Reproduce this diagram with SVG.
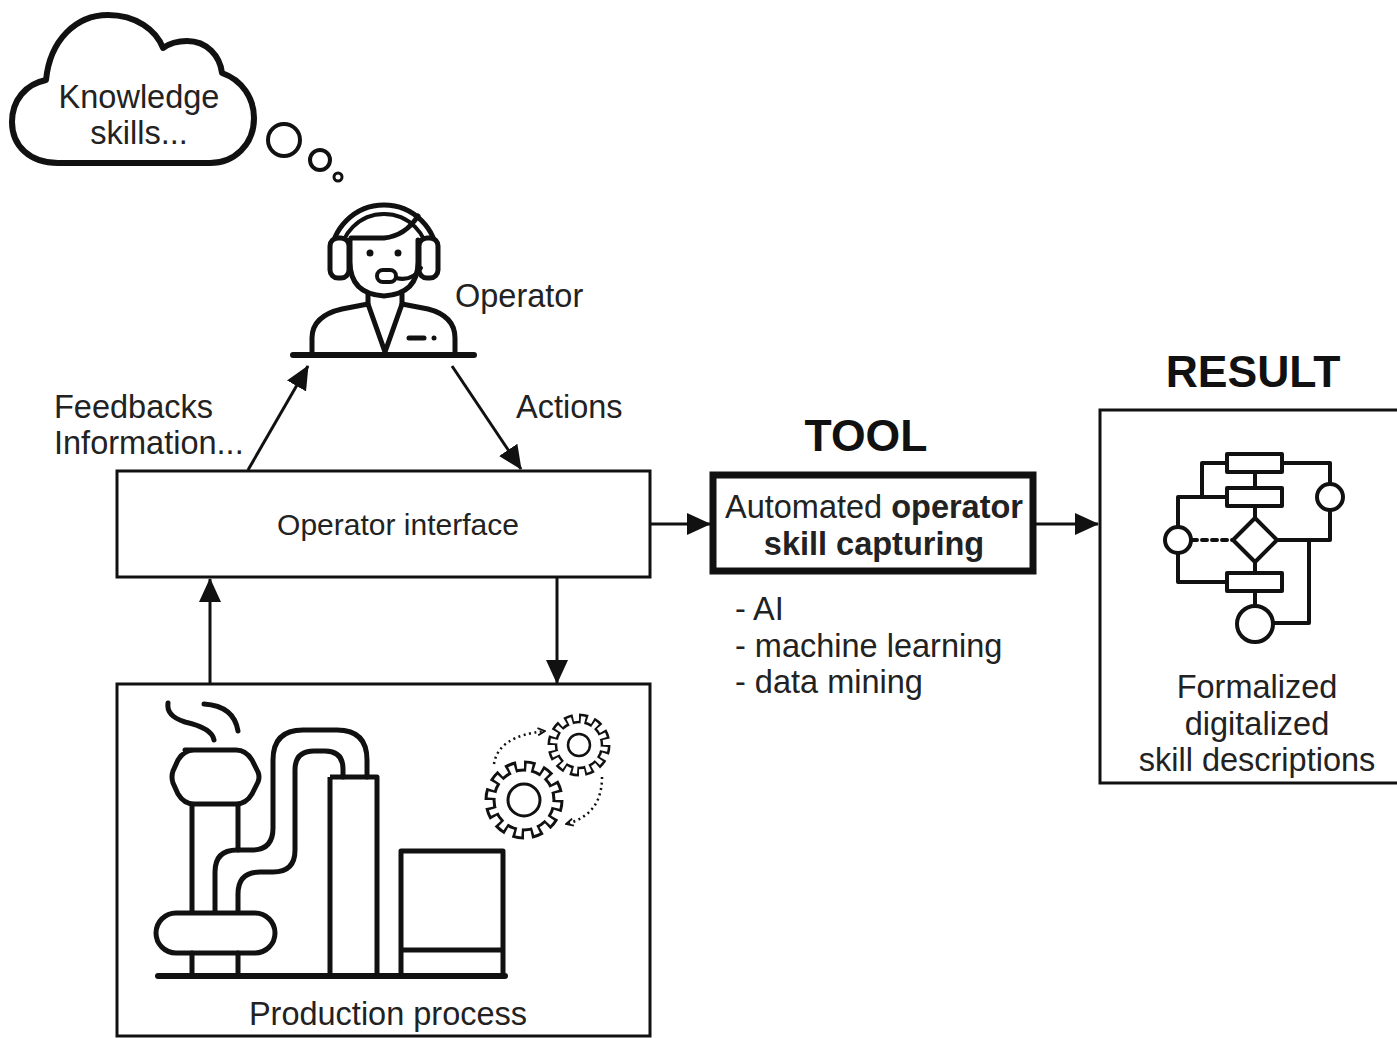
<svg xmlns="http://www.w3.org/2000/svg" width="1397" height="1038" viewBox="0 0 1397 1038">
  <style>
    .lbl { font-family: "Liberation Sans", Arial, sans-serif; font-size: 32.5px; fill: #222; }
    .mid { font-size: 30px; }
    .hdr { font-family: "Liberation Sans", Arial, sans-serif; font-size: 44.5px; font-weight: bold; fill: #111; }
    .bold { font-weight: bold; }
    .box { fill: #fff; stroke: #111; stroke-width: 3; }
    .ink { fill: none; stroke: #111; stroke-linecap: round; stroke-linejoin: round; }
    .conn { fill: none; stroke: #111; stroke-width: 3; }
  </style>
  <defs>
    <marker id="arrow" viewBox="0 0 24 22" refX="23" refY="11" markerWidth="24" markerHeight="22" markerUnits="userSpaceOnUse" orient="auto">
      <path d="M0 0 L24 11 L0 22 Z" fill="#111"/>
    </marker>
    <marker id="tiny" viewBox="0 0 10 10" refX="9" refY="5" markerWidth="9" markerHeight="9" markerUnits="userSpaceOnUse" orient="auto">
      <path d="M1 1 L9 5 L1 9" fill="none" stroke="#111" stroke-width="2"/>
    </marker>
  </defs>
  <rect width="1397" height="1038" fill="#fff"/>

  <!-- thought cloud -->
  <g id="cloud">
    <path class="ink" stroke-width="6" fill="#fff" d="M58 163 C30 163 12 146 12 122 C12 100 26 84 46 80 C50 40 76 15 108 15 C136 15 156 30 163 48 C170 43 178 41 187 41 C207 41 220 56 222 73 C242 80 254 98 254 118 C254 145 234 163 210 163 Z"/>
    <text class="lbl" x="139" y="108" text-anchor="middle">Knowledge</text>
    <text class="lbl" x="139" y="144" text-anchor="middle">skills...</text>
    <circle cx="284" cy="140" r="16" fill="none" stroke="#111" stroke-width="4"/>
    <circle cx="320" cy="160" r="10" fill="none" stroke="#111" stroke-width="4"/>
    <circle cx="338" cy="177" r="4" fill="none" stroke="#111" stroke-width="3"/>
  </g>

  <!-- operator at desk -->
  <g id="operator">
    <path class="ink" stroke-width="5" d="M331 258 A53 53 0 0 1 437 258"/>
    <path class="ink" stroke-width="4" d="M340 258 A44 44 0 0 1 428 258"/>
    <path class="ink" stroke-width="5" d="M351 238 H384 Q405 236 418 216"/>
    <path class="ink" stroke-width="5" d="M350 240 V262 Q350 294 384 296 Q418 294 418 262 V240"/>
    <rect x="330" y="238" width="19" height="40" rx="8" fill="#fff" stroke="#111" stroke-width="5"/>
    <rect x="419" y="238" width="19" height="40" rx="8" fill="#fff" stroke="#111" stroke-width="5"/>
    <circle cx="370" cy="253" r="3.5" fill="#111"/>
    <circle cx="398" cy="253" r="3.5" fill="#111"/>
    <path class="ink" stroke-width="4" d="M396 278 Q412 282 421 268"/>
    <rect x="377" y="270" width="19" height="12" rx="6" fill="#fff" stroke="#111" stroke-width="4"/>
    <path class="ink" stroke-width="5" d="M368 294 V305 M402 294 V305"/>
    <path class="ink" stroke-width="5" d="M312 353 V338 Q312 316 342 309 L368 304 L385 352 L402 304 L428 309 Q455 316 455 338 V353"/>
    <path class="ink" stroke-width="5" d="M409 338 H424"/>
    <circle cx="434" cy="338" r="2.5" fill="#111"/>
    <path class="ink" stroke-width="6" stroke-linecap="butt" d="M293 355 H474"/>
    <text class="lbl" x="455" y="307">Operator</text>
  </g>

  <!-- operator interface -->
  <g id="operator-interface">
    <rect class="box" x="117" y="471" width="533" height="106"/>
    <text class="lbl mid" x="398" y="535" text-anchor="middle">Operator interface</text>
  </g>

  <!-- production process -->
  <g id="production-process">
    <rect class="box" x="117" y="684" width="533" height="352"/>
    <g class="ink" stroke-width="5">
      <path d="M168 703 Q166 716 185 722 Q212 728 214 740"/>
      <path d="M204 704 Q234 706 238 731"/>
      <path fill="#fff" d="M185 750 H236 Q246 750 252 760 L258 772 Q260 777 258 782 L252 794 Q246 804 236 804 H194 Q184 804 178 794 L173 783 Q171 777 173 771 L178 760 Q184 750 194 750 Z"/>
      <path d="M192 805 V913 M238 805 V850"/>
      <path d="M215 913 V872 Q215 850 237 850 H252 Q273 850 273 828 V760 Q273 730 303 730 H337 Q367 730 367 760 V777"/>
      <path d="M238 913 V894 Q238 872 260 872 H273 Q295 872 295 850 V770 Q295 751 314 751 H325 Q343 751 343 769 V777"/>
      <rect x="156" y="913" width="119" height="40" rx="20" fill="#fff"/>
      <path d="M192 953 V975 M238 953 V975"/>
      <path stroke-linecap="butt" d="M330 777 H377 V977 M330 777 V977"/>
      <path stroke-linecap="butt" d="M401 977 V851 H503 V977 M401 950 H503"/>
      <path stroke-width="6" d="M158 976 H505"/>
    </g>
    <!-- large gear -->
    <g transform="translate(524 800)">
      <circle r="31.5" fill="#111"/>
      <circle r="34.75" fill="none" stroke="#111" stroke-width="9.5" pathLength="120" stroke-dasharray="6 4"/>
      <circle r="28.5" fill="#fff"/>
      <circle r="32.25" fill="none" stroke="#fff" stroke-width="8.5" pathLength="120" stroke-dasharray="3.2 6.8" stroke-dashoffset="-1.4"/>
      <circle r="16" fill="none" stroke="#111" stroke-width="3"/>
    </g>
    <!-- small gear -->
    <g transform="translate(579 745)">
      <circle r="24.25" fill="#111"/>
      <circle r="27.25" fill="none" stroke="#111" stroke-width="8.5" pathLength="120" stroke-dasharray="6 4"/>
      <circle r="21.75" fill="#fff"/>
      <circle r="25.1" fill="none" stroke="#fff" stroke-width="7.6" pathLength="120" stroke-dasharray="3.2 6.8" stroke-dashoffset="-1.4"/>
      <circle r="11" fill="none" stroke="#111" stroke-width="2.5"/>
    </g>
    <path d="M494 764 Q498 736 545 731" fill="none" stroke="#111" stroke-width="2.5" stroke-dasharray="2 3.5" marker-end="url(#tiny)"/>
    <path d="M602 777 Q602 815 566 824" fill="none" stroke="#111" stroke-width="2.5" stroke-dasharray="2 3.5" marker-end="url(#tiny)"/>
    <text class="lbl" x="388" y="1025" text-anchor="middle">Production process</text>
  </g>

  <!-- capturing tool -->
  <g id="tool">
    <text class="hdr" x="866" y="451" text-anchor="middle">TOOL</text>
    <rect x="713" y="475" width="320" height="96" fill="#fff" stroke="#111" stroke-width="7"/>
    <text class="lbl" x="874" y="518" text-anchor="middle">Automated <tspan class="bold">operator</tspan></text>
    <text class="lbl bold" x="874" y="555" text-anchor="middle">skill capturing</text>
    <text class="lbl" x="735" y="620">- AI</text>
    <text class="lbl" x="735" y="657">- machine learning</text>
    <text class="lbl" x="735" y="693">- data mining</text>
  </g>

  <!-- result -->
  <g id="result">
    <text class="hdr" x="1253" y="387" text-anchor="middle">RESULT</text>
    <rect class="box" x="1100" y="410" width="310" height="373"/>
    <g class="ink" stroke-width="4" stroke-linecap="butt">
      <path d="M1227 463 H1202 V497 M1227 497 H1178 V527 M1178 553 V582 H1227"/>
      <path d="M1282 463 H1330 V484 M1330 510 V540 H1277 M1309 540 V623 H1273"/>
      <path d="M1255 473 V487 M1255 507 V518 M1255 562 V572 M1255 592 V606"/>
      <path d="M1192 540 H1233" stroke-dasharray="5 5"/>
      <rect x="1227" y="454" width="55" height="18" fill="#fff"/>
      <rect x="1227" y="488" width="55" height="18" fill="#fff"/>
      <rect x="1227" y="573" width="55" height="18" fill="#fff"/>
      <path d="M1255 518 L1277 540 L1255 562 L1233 540 Z" fill="#fff"/>
      <circle cx="1178" cy="540" r="13" fill="#fff"/>
      <circle cx="1330" cy="497" r="13" fill="#fff"/>
      <circle cx="1255" cy="624" r="18" fill="#fff"/>
    </g>
    <text class="lbl" x="1257" y="698" text-anchor="middle">Formalized</text>
    <text class="lbl" x="1257" y="735" text-anchor="middle">digitalized</text>
    <text class="lbl" x="1257" y="771" text-anchor="middle">skill descriptions</text>
  </g>

  <!-- connectors -->
  <g id="connectors">
    <path class="conn" d="M248 470 L308 366" marker-end="url(#arrow)"/>
    <path class="conn" d="M452 366 L521 469" marker-end="url(#arrow)"/>
    <path class="conn" d="M210 684 V579" marker-end="url(#arrow)"/>
    <path class="conn" d="M557 577 V683" marker-end="url(#arrow)"/>
    <path class="conn" d="M650 524 H710" marker-end="url(#arrow)"/>
    <path class="conn" d="M1036 524 H1098" marker-end="url(#arrow)"/>
    <text class="lbl" x="54" y="418">Feedbacks</text>
    <text class="lbl" x="54" y="454">Information...</text>
    <text class="lbl" x="516" y="418">Actions</text>
  </g>
</svg>
